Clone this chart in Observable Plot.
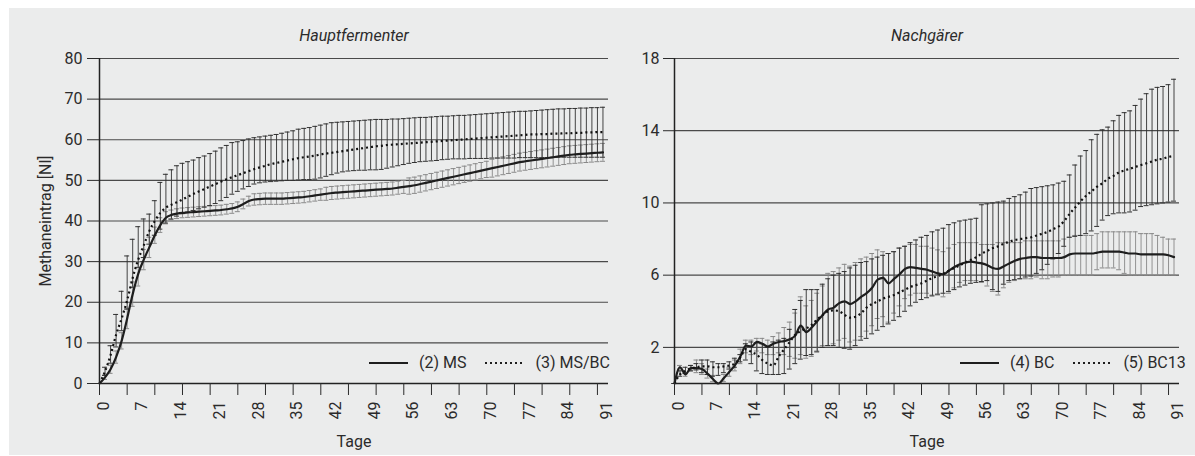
<!DOCTYPE html>
<html><head><meta charset="utf-8">
<script src="https://cdn.jsdelivr.net/npm/d3@7"></script>
<script src="https://cdn.jsdelivr.net/npm/@observablehq/plot@0.6"></script>
<style>
body{margin:0;background:#fff;width:1195px;height:456px;overflow:hidden;position:relative;font-family:Roboto,sans-serif;color:#2b2b2b}
#bg{position:absolute;left:9px;top:8px;width:1186px;height:447px;background:#ebecec}
#p1,#p2{position:absolute;top:0}
#p1{left:0}
#p2{left:615px}
.legend{position:absolute;height:20px;display:flex;align-items:center;font-size:16px;line-height:20px;white-space:nowrap}
.legend svg{display:block;margin-right:11px}
.gap{display:inline-block;width:19px}
</style></head><body>
<div id="bg"></div><div id="p1"></div><div id="p2"></div>
<div class="legend" style="left:369px;top:353px"><svg width="39" height="4"><line x1="0" x2="39" y1="2" y2="2" stroke="#1e1e1e" stroke-width="2"/></svg><span>(2) MS</span><span class="gap"></span><svg width="39" height="4"><line x1="0" x2="39" y1="2" y2="2" stroke="#1e1e1e" stroke-width="2" stroke-dasharray="2,3"/></svg><span>(3) MS/BC</span></div>
<div class="legend" style="left:960px;top:353px"><svg width="39" height="4"><line x1="0" x2="39" y1="2" y2="2" stroke="#1e1e1e" stroke-width="2"/></svg><span>(4) BC</span><span class="gap"></span><svg width="39" height="4"><line x1="0" x2="39" y1="2" y2="2" stroke="#1e1e1e" stroke-width="2" stroke-dasharray="2,3"/></svg><span>(5) BC13</span></div>
<script>
// Days 0..91
const days = [0,1,2,3,4,5,6,7,8,9,10,11,12,13,14,15,16,17,18,19,20,21,22,23,24,25,26,27,28,29,30,31,32,33,34,35,36,37,38,39,40,41,42,43,44,45,46,47,48,49,50,51,52,53,54,55,56,57,58,59,60,61,62,63,64,65,66,67,68,69,70,71,72,73,74,75,76,77,78,79,80,81,82,83,84,85,86,87,88,89,90,91];
const xTickMarks = [0,5,10,15,20,25,30,35,40,45,50,55,60,65,70,75,80,85,90];
const xTickLabels = [0,7,14,21,28,35,42,49,56,63,70,77,84,91];
const yTicksLeft = [0,10,20,30,40,50,60,70,80];
const yTicksRight = [2,6,10,14,18];

// Hauptfermenter: (2) MS
const msMean = [0,1.5,3.5,6.5,10.5,16,22,27,30.5,33.5,
36.5,39,40.8,41.5,41.8,42,42.1,42.2,42.3,42.4,
42.5,42.6,42.7,42.9,43.1,43.5,44.2,44.9,45.3,45.4,
45.5,45.5,45.5,45.5,45.6,45.7,45.8,45.9,46.1,46.3,
46.5,46.7,46.9,47,47.1,47.2,47.3,47.4,47.5,47.6,
47.7,47.8,47.9,48,48.2,48.4,48.6,48.8,49.1,49.4,
49.7,50,50.3,50.6,50.9,51.2,51.5,51.8,52.1,52.4,
52.7,53,53.3,53.6,53.9,54.2,54.5,54.7,54.9,55.1,
55.3,55.5,55.7,55.9,56.1,56.3,56.4,56.5,56.6,56.7,
56.8,56.9];
const msLow = [0,1,2.5,5,8.5,13.5,19,24,28,31,
34.5,37.2,39.3,40.3,40.6,40.8,40.9,41,41.1,41.2,
41.3,41.4,41.5,41.7,41.9,42.3,43,43.7,43.9,44,
44.1,44.1,44.1,44.1,44.2,44.3,44.4,44.5,44.7,44.9,
45.1,45.1,45.3,45.4,45.5,45.6,45.7,45.8,45.9,46,
46.1,46.2,46.3,46.4,46.6,46.8,46.6,46.8,47.1,47.4,
47.7,48,48.3,48.6,48.9,49.2,49.5,49.8,50.1,50.4,
50.7,50.8,51.1,51.4,51.7,52,52.3,52.5,52.7,52.9,
53.1,53.3,53.5,53.7,53.9,54.1,54.2,54.3,54.4,54.5,
54.6,54.7];
const msHigh = [0,2,4.5,8,12.5,18.5,25,30,33,36,
38.5,40.8,42.3,42.7,43,43.2,43.3,43.4,43.5,43.6,
43.7,43.8,43.9,44.1,44.3,44.7,45.4,46.1,46.7,46.8,
46.9,46.9,46.9,46.9,47,47.1,47.2,47.3,47.5,47.7,
47.9,48.3,48.5,48.6,48.7,48.8,48.9,49,49.1,49.2,
49.3,49.4,49.5,49.6,49.8,50,50.6,50.8,51.1,51.4,
51.7,52,52.3,52.6,52.9,53.2,53.5,53.8,54.1,54.4,
54.7,55.2,55.5,55.8,56.1,56.4,56.7,56.9,57.1,57.3,
57.5,57.7,57.9,58.1,58.3,58.5,58.6,58.7,58.8,58.9,
59,59.1];

// Hauptfermenter: (3) MS/BC
const msbcMean = [0,3,7,12,16,20.5,26,30.5,34,37.5,
40,42,43.3,44,44.6,45.3,46,46.7,47.3,47.9,
48.5,49.1,49.7,50.3,50.8,51.3,51.8,52.3,52.8,53.2,
53.6,54,54.3,54.6,54.9,55.2,55.5,55.7,55.9,56.1,
56.4,56.6,56.8,57,57.2,57.4,57.6,57.8,58,58.2,
58.4,58.5,58.7,58.8,58.9,59,59.1,59.2,59.3,59.4,
59.5,59.6,59.7,59.8,59.9,60,60.1,60.2,60.3,60.4,
60.5,60.6,60.7,60.8,60.9,61,61.1,61.2,61.3,61.3,
61.4,61.4,61.5,61.5,61.6,61.6,61.7,61.7,61.8,61.8,
61.9,61.9];
const msbcLow = [0,2,5,9,13,18.3,23.7,28.6,31,34.3,
36.5,38,39.5,40.5,41.2,41.8,42.2,42.6,43,43.4,
43.8,44.3,45,45.8,46.6,47.3,47.9,48.5,49.1,49.4,
49.6,49.7,49.8,49.9,50,50,50.1,50.2,50.2,50.3,
50.6,51,51.4,51.8,52.1,52.3,52.4,52.5,52.5,52.6,
52.6,52.7,53,53.3,53.6,53.9,54.2,54.4,54.6,54.7,
54.8,54.9,55.1,55.2,55.3,55.3,55.3,55.4,55.4,55.4,
55.4,55.5,55.5,55.5,55.5,55.5,55.6,55.6,55.6,55.6,
55.6,55.6,55.7,55.7,55.7,55.7,55.7,55.7,55.7,55.7,
55.7,55.7];
const msbcHigh = [0,4,9.3,17,22.7,31.4,35.5,38.6,40.5,41.7,
45,49.5,51.5,52.6,53.6,54.2,54.6,55,55.6,56,
56.6,57.2,58,58.6,59.3,59.5,59.8,60.2,60.5,60.7,
60.9,61.1,61.3,61.6,61.9,62.2,62.6,62.8,63,63.3,
63.6,63.9,64.2,64.3,64.4,64.5,64.6,64.7,64.8,64.9,
65,65,65,65.1,65.1,65.2,65.3,65.4,65.5,65.5,
65.6,65.7,65.8,65.8,65.9,66,66,66.1,66.2,66.3,
66.4,66.5,66.6,66.7,66.8,66.9,67,67,67.1,67.2,
67.3,67.4,67.5,67.6,67.6,67.7,67.7,67.8,67.8,67.9,
67.9,68];

// Nachgärer: (4) BC
const bcMean = [0,0.9,0.5,0.85,0.85,0.8,0.55,0.25,0,0.3,
0.65,1,1.5,2.1,2.05,2.3,2.2,2.05,2.2,2.3,
2.35,2.45,2.65,3.2,2.85,3.1,3.45,3.8,4.1,4.2,
4.45,4.55,4.4,4.55,4.8,5,5.3,5.75,5.85,5.55,
5.8,6.05,6.35,6.45,6.4,6.35,6.3,6.2,6.1,6.05,
6.25,6.45,6.6,6.7,6.75,6.7,6.65,6.55,6.4,6.35,
6.5,6.65,6.8,6.9,6.95,7,7,6.95,6.95,6.95,
6.95,7,7.15,7.2,7.2,7.2,7.2,7.25,7.3,7.3,
7.3,7.3,7.25,7.2,7.2,7.15,7.15,7.15,7.15,7.15,
7.1,7];
const bcLow = [0,0.8,0.4,0.7,0.6,0.5,0.3,0.1,0,0.1,
0.4,0.7,1.1,1.7,1.6,1.8,1.7,1.6,1.6,1.7,
1.6,1.5,1.4,1.6,1.4,1.5,1.8,2.1,2.1,2.2,
2.4,2.5,2.3,2.4,2.6,2.9,3.2,3.6,3.7,3.4,
3.9,4.3,4.7,4.9,5,5,5,4.9,4.9,4.8,
5,5.3,5.6,5.7,5.7,5.7,5.6,5.4,5.1,4.9,
5.3,5.6,5.7,5.8,5.8,5.8,5.9,5.8,5.8,5.9,
5.9,6,6,6,6,6,6,6.3,6.4,6.4,
6.4,6.3,6.1,6,6,6,6,6,6,6,
6,6];
const bcHigh = [0,1,0.6,1,1.3,1.1,0.8,0.45,0,0.5,
0.9,1.3,1.9,2.4,2.4,2.5,2.5,2.4,2.6,2.8,
3.1,3.4,3.9,4.8,4.3,4.6,5,5.4,6.1,6.2,
6.4,6.6,6.5,6.7,6.9,7,7.2,7.4,7.3,7.2,
7.3,7.5,7.6,7.7,7.7,7.6,7.6,7.5,7.4,7.3,
7.5,7.7,7.8,7.8,7.8,7.8,7.7,7.7,7.7,7.8,
7.8,7.8,7.8,7.8,7.9,7.9,7.9,7.9,7.9,7.9,
7.9,8,8.1,8.2,8.2,8.2,8.2,8.3,8.4,8.4,
8.4,8.4,8.4,8.4,8.4,8.3,8.3,8.3,8.2,8.1,
8,8];

// Nachgärer: (5) BC13
const bc13Mean = [0,0.5,0.7,0.85,0.9,0.95,0.95,0.9,0.9,0.95,
1,1.1,1.45,1.9,1.75,1.6,1.3,1.1,1,1.5,
1.9,2.3,2.7,2.9,3.05,3.25,3.55,3.8,4,4.05,
4,3.8,3.65,3.7,3.9,4.2,4.4,4.55,4.7,4.8,
4.9,5.05,5.2,5.35,5.45,5.55,5.7,5.85,5.95,6.1,
6.25,6.4,6.55,6.7,6.85,7,7.2,7.35,7.5,7.6,
7.75,7.85,7.95,8,8.05,8.1,8.2,8.3,8.4,8.55,
8.7,9,9.4,9.75,10.1,10.4,10.65,10.9,11.1,11.35,
11.5,11.7,11.8,11.9,12,12.1,12.2,12.3,12.4,12.45,
12.55,12.6];
const bc13Low = [0,0.4,0.55,0.7,0.75,0.6,0.5,0.4,0.45,0.6,
0.8,0.9,1.2,1.3,1.1,0.7,0.55,0.5,0.5,0.5,
0.55,0.8,1.1,1.35,1.55,1.6,1.75,2,2.1,2.1,
2,1.95,1.9,2.1,2.4,2.5,2.75,2.95,3.15,3.3,
3.5,3.7,4,4.3,4.5,4.65,4.75,4.85,4.95,5,
5.1,5.2,5.35,5.45,5.55,5.6,5.65,5.7,5.2,5.1,
5.5,5.7,5.75,5.8,5.9,5.95,6.1,6.3,6.6,6.9,
7.2,7.6,8.1,8.15,8.2,8.3,8.45,8.7,9.05,9.3,
9.4,9.45,9.45,9.5,9.6,9.8,9.85,9.9,9.95,10,
10.05,10.1];
const bc13High = [0,0.7,0.9,1,1.1,1.3,1.3,1.2,1.1,1.1,
1.2,1.4,1.6,2.2,2.3,2.25,2.2,2,2.3,2.4,
2.5,3,4.1,4.6,5.2,5.2,5.2,5.5,5.8,6,
6.1,6.2,6.4,6.55,6.7,6.75,6.9,7,7.1,7.2,
7.3,7.5,7.6,7.8,7.95,8.1,8.2,8.4,8.5,8.6,
8.8,8.9,9,9.05,9.1,9.15,9.9,9.95,10,10.05,
10.1,10.25,10.35,10.45,10.6,10.8,10.85,10.9,10.95,11,
11.1,11.2,11.55,12.1,12.6,12.9,13.5,13.8,14.05,14.2,
14.55,14.85,15,15.1,15.4,15.75,16.05,16.3,16.4,16.45,
16.55,16.85];

function rows(mean, lo, hi) {
  return days.map((d, i) => ({day: d, mean: mean[i], lo: lo[i], hi: hi[i]}));
}

const INK = "#1e1e1e";
function panel(o) {
  const cap = 0.45;
  const bars = (data, color, w) => [
    Plot.ruleX(data, {x: "day", y1: "lo", y2: "hi", stroke: color, strokeWidth: w}),
    Plot.ruleY(data, {y: "hi", x1: d => d.day - cap, x2: d => d.day + cap, stroke: color, strokeWidth: 1}),
    Plot.ruleY(data, {y: "lo", x1: d => d.day - cap, x2: d => d.day + cap, stroke: color, strokeWidth: 1})
  ];
  return Plot.plot({
    width: o.width, height: 456,
    marginLeft: o.marginLeft, marginRight: o.marginRight, marginTop: 58, marginBottom: 73,
    style: {background: "transparent", fontFamily: "Roboto, sans-serif", fontSize: "16px", color: "#2b2b2b", overflow: "visible"},
    x: {domain: [0, 92]},
    y: {domain: o.yDomain},
    marks: [
      Plot.gridY({ticks: o.yTicks, stroke: "#4a4a4a", strokeOpacity: 1, strokeWidth: 1.2}),
      ...bars(o.solid, "#888888", 0.9),
      ...bars(o.dotted, "#303030", 0.9),
      Plot.line(o.solid, {x: "day", y: "mean", stroke: INK, strokeWidth: 2.2, curve: "monotone-x"}),
      Plot.line(o.dotted, {x: "day", y: "mean", stroke: "#111", strokeWidth: 2.2, strokeDasharray: "2 3", strokeLinecap: "butt", curve: "monotone-x"}),
      Plot.ruleX([0], {stroke: "#222", strokeWidth: 1.5}),
      Plot.ruleY([o.yDomain[0]], {stroke: "#222", strokeWidth: 1.5}),
      Plot.axisY({ticks: o.yTicks, tickSize: o.yTickSize, tickPadding: o.yTickPadding, label: null, fontSize: 16}),
      Plot.axisX({ticks: xTickMarks, tickSize: 12, tickFormat: () => "", label: null}),
      Plot.axisX({ticks: xTickLabels, tickSize: 0, tickPadding: 18, tickRotate: -90, label: null, fontSize: 16, dx: 4}),
      Plot.text([o.title], {frameAnchor: "top", lineAnchor: "middle", dy: -23, fontStyle: "italic", fontSize: 16}),
      Plot.text(["Tage"], {frameAnchor: "bottom", lineAnchor: "middle", dy: 58, fontSize: 16}),
      ...(o.yLabel ? [Plot.text([o.yLabel], {frameAnchor: "left", textAnchor: "middle", lineAnchor: "middle", rotate: -90, dx: -54, fontSize: 16})] : [])
    ]
  });
}

document.getElementById("p1").append(panel({
  width: 615, marginLeft: 99, marginRight: 7,
  yDomain: [0, 80], yTicks: yTicksLeft, yTickSize: 12, yTickPadding: 5,
  title: "Hauptfermenter", yLabel: "Methaneintrag [Nl]",
  solid: rows(msMean, msLow, msHigh), dotted: rows(msbcMean, msbcLow, msbcHigh)
}));
document.getElementById("p2").append(panel({
  width: 580, marginLeft: 59, marginRight: 16,
  yDomain: [0, 18], yTicks: yTicksRight, yTickSize: 11, yTickPadding: 4,
  title: "Nachgärer",
  solid: rows(bcMean, bcLow, bcHigh), dotted: rows(bc13Mean, bc13Low, bc13High)
}));
</script>
</body></html>
